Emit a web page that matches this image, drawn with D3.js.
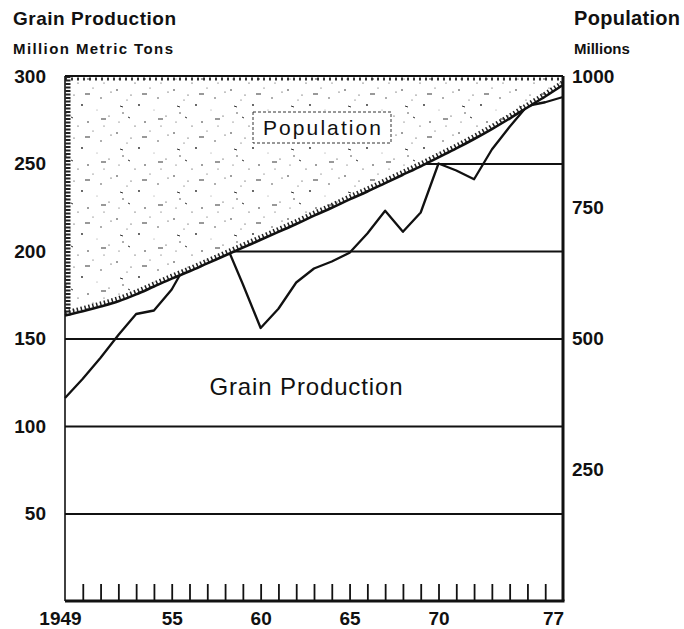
<!DOCTYPE html>
<html>
<head>
<meta charset="utf-8">
<script src="https://cdn.jsdelivr.net/npm/d3@7"></script>
<style>
body { margin: 0; background: #fff; }
text { font-family: "Liberation Sans", Arial, sans-serif; fill: #111; }
.axis text { font-weight: bold; font-size: 19px; }
</style>
</head>
<body>
<div id="chart"></div>
<script>
var width = 684,
    height = 629;

// years on the x axis
var years = [1949, 1950, 1951, 1952, 1953, 1954, 1955, 1956, 1957, 1958,
             1959, 1960, 1961, 1962, 1963, 1964, 1965, 1966, 1967, 1968,
             1969, 1970, 1971, 1972, 1973, 1974, 1975, 1976, 1977];
// population, millions (right scale)
var population = [544, 552, 561, 571, 584, 599, 614, 628, 643, 658,
                  673, 688, 703, 718, 734, 749, 765, 780, 796, 812,
                  828, 845, 862, 880, 899, 919, 940, 961, 983];
// grain production, million metric tons (left scale)
var grain = [116, 127, 139, 152, 164, 166, 178, 196, 200, 205,
             181, 156, 167, 182, 190, 194, 199, 210, 223, 211,
             222, 250, 246, 241, 258, 271, 283, 285, 288];

var grainTicks = [50, 100, 150, 200, 250, 300];
var gridValues = [50, 100, 150, 200, 250];
var popTicks = [250, 500, 750, 1000];
var labelYears = [1949, 1955, 1960, 1965, 1970, 1977];
var labelText = ["1949", "55", "60", "65", "70", "77"];

var plotLeft = 65, plotRight = 563, plotTop = 76, plotBottom = 601;

var svg = d3.select("#chart")
    .append("svg")
    .attr("width", width)
    .attr("height", height);

var x = d3.scaleLinear().domain([1949, 1977]).range([plotLeft, plotRight]);
var yGrain = d3.scaleLinear().domain([0, 300]).range([plotBottom, plotTop]);
var yPop = d3.scaleLinear().domain([0, 1000]).range([plotBottom, plotTop]);

// stipple texture for the population area
var defs = svg.append("defs");
var pat = defs.append("pattern")
    .attr("id", "stipple")
    .attr("patternUnits", "userSpaceOnUse")
    .attr("width", 57)
    .attr("height", 43);
pat.append("rect").attr("width", 57).attr("height", 43).attr("fill", "#fff");
[[3, 4, .8], [17, 9, .6], [9, 27, .7], [25, 19, .9], [36, 2, .5], [13, 14, .5],
 [44, 12, .7], [52, 30, .6], [31, 36, .8], [47, 40, .5], [21, 40, .6], [40, 24, .4],
 [5, 36, .5], [54, 6, .6]]
  .forEach(function(d) {
    pat.append("circle").attr("cx", d[0]).attr("cy", d[1]).attr("r", d[2]).attr("fill", "#222");
  });
[[28, 8, 33, 8], [6, 20, 9, 21], [44, 33, 49, 33], [14, 31, 16, 32]]
  .forEach(function(d) {
    pat.append("line").attr("x1", d[0]).attr("y1", d[1]).attr("x2", d[2]).attr("y2", d[3])
      .attr("stroke", "#333").attr("stroke-width", 1);
  });

// gridlines
svg.append("g")
    .attr("transform", "translate(" + plotLeft + ",0)")
    .call(d3.axisLeft(yGrain).tickValues(gridValues).tickSize(-(plotRight - plotLeft)).tickFormat(""))
    .call(function(g) { g.select(".domain").remove(); })
    .selectAll("line").attr("stroke", "#111").attr("stroke-width", 2);

// grain line (the part above population is covered by the shading)
var grainLine = d3.line()
    .x(function(d, i) { return x(years[i]); })
    .y(function(d) { return yGrain(d); });

svg.append("path")
    .datum(grain)
    .attr("d", grainLine)
    .attr("fill", "none")
    .attr("stroke", "#111")
    .attr("stroke-width", 2.3)
    .attr("stroke-linejoin", "round");

// population area
var popArea = d3.area()
    .curve(d3.curveMonotoneX)
    .x(function(d, i) { return x(years[i]); })
    .y0(plotTop)
    .y1(function(d) { return yPop(d); });

var popLine = d3.line()
    .curve(d3.curveMonotoneX)
    .x(function(d, i) { return x(years[i]); })
    .y(function(d) { return yPop(d); });

svg.append("path")
    .datum(population)
    .attr("d", popArea)
    .attr("fill", "url(#stipple)");

// rough dark edges of the shading
svg.append("path")
    .datum(population)
    .attr("d", popLine)
    .attr("transform", "translate(0,-3)")
    .attr("fill", "none")
    .attr("stroke", "#222")
    .attr("stroke-width", 4)
    .attr("stroke-dasharray", "1.5 2.5");

svg.append("line")
    .attr("x1", plotLeft + 3).attr("x2", plotLeft + 3)
    .attr("y1", plotTop).attr("y2", yPop(population[0]))
    .attr("stroke", "#222")
    .attr("stroke-width", 5)
    .attr("stroke-dasharray", "2 1.5");

svg.append("line")
    .attr("x1", plotLeft).attr("x2", plotRight)
    .attr("y1", plotTop + 3).attr("y2", plotTop + 3)
    .attr("stroke", "#333")
    .attr("stroke-width", 3)
    .attr("stroke-dasharray", "2 4");

svg.append("path")
    .datum(population)
    .attr("d", popLine)
    .attr("fill", "none")
    .attr("stroke", "#111")
    .attr("stroke-width", 2.6);

// label boxes
svg.append("rect")
    .attr("x", 253).attr("y", 112)
    .attr("width", 138).attr("height", 31)
    .attr("fill", "#fff")
    .attr("stroke", "#333")
    .attr("stroke-width", 1)
    .attr("stroke-dasharray", "3 2");

svg.append("text")
    .attr("x", 322).attr("y", 135)
    .attr("text-anchor", "middle")
    .attr("textLength", 118)
    .style("font-size", "21px")
    .text("Population");

svg.append("text")
    .attr("x", 306).attr("y", 395)
    .attr("text-anchor", "middle")
    .attr("textLength", 193)
    .style("font-size", "24px")
    .text("Grain Production");

// frame
svg.append("line").attr("x1", plotLeft).attr("x2", plotLeft).attr("y1", plotTop).attr("y2", plotBottom)
    .attr("stroke", "#111").attr("stroke-width", 1.6);
svg.append("line").attr("x1", plotRight).attr("x2", plotRight).attr("y1", plotTop).attr("y2", plotBottom)
    .attr("stroke", "#111").attr("stroke-width", 3);
svg.append("line").attr("x1", plotLeft).attr("x2", plotRight).attr("y1", plotTop).attr("y2", plotTop)
    .attr("stroke", "#111").attr("stroke-width", 2);
svg.append("line").attr("x1", plotLeft).attr("x2", plotRight + 1.5).attr("y1", plotBottom).attr("y2", plotBottom)
    .attr("stroke", "#111").attr("stroke-width", 3);

// year ticks inside the bottom
svg.append("g")
    .attr("transform", "translate(0," + plotBottom + ")")
    .call(d3.axisBottom(x).tickValues(years.slice(1, -1)).tickSize(-17).tickFormat(""))
    .call(function(g) { g.select(".domain").remove(); })
    .selectAll("line").attr("stroke", "#111").attr("stroke-width", 1.8);

// axes labels
svg.append("g")
    .attr("class", "axis")
    .attr("transform", "translate(" + plotLeft + ",0)")
    .call(d3.axisLeft(yGrain).tickValues(grainTicks).tickSize(0).tickPadding(19))
    .call(function(g) { g.select(".domain").remove(); });

svg.append("g")
    .attr("class", "axis")
    .attr("transform", "translate(" + plotRight + ",0)")
    .call(d3.axisRight(yPop).tickValues(popTicks).tickSize(0).tickPadding(9).tickFormat(d3.format("d")))
    .call(function(g) { g.select(".domain").remove(); });

var xAxis = svg.append("g")
    .attr("class", "axis")
    .attr("transform", "translate(0," + plotBottom + ")")
    .call(d3.axisBottom(x).tickValues(labelYears).tickSize(0).tickPadding(11)
      .tickFormat(function(d, i) { return labelText[i]; }))
    .call(function(g) { g.select(".domain").remove(); });

xAxis.selectAll("text")
    .attr("dx", function(d, i) {
      if (i == 0) return -5;
      if (i == labelYears.length - 1) return -10;
      return 0;
    });

// titles
svg.append("text").attr("x", 13).attr("y", 25)
    .attr("textLength", 163)
    .style("font-size", "19px").style("font-weight", "bold")
    .text("Grain Production");
svg.append("text").attr("x", 13).attr("y", 54)
    .attr("textLength", 160)
    .style("font-size", "15px").style("font-weight", "bold")
    .text("Million Metric Tons");
svg.append("text").attr("x", 574).attr("y", 25)
    .attr("textLength", 106)
    .style("font-size", "20px").style("font-weight", "bold")
    .text("Population");
svg.append("text").attr("x", 574).attr("y", 54)
    .style("font-size", "15px").style("font-weight", "bold")
    .text("Millions");
</script>
</body>
</html>
